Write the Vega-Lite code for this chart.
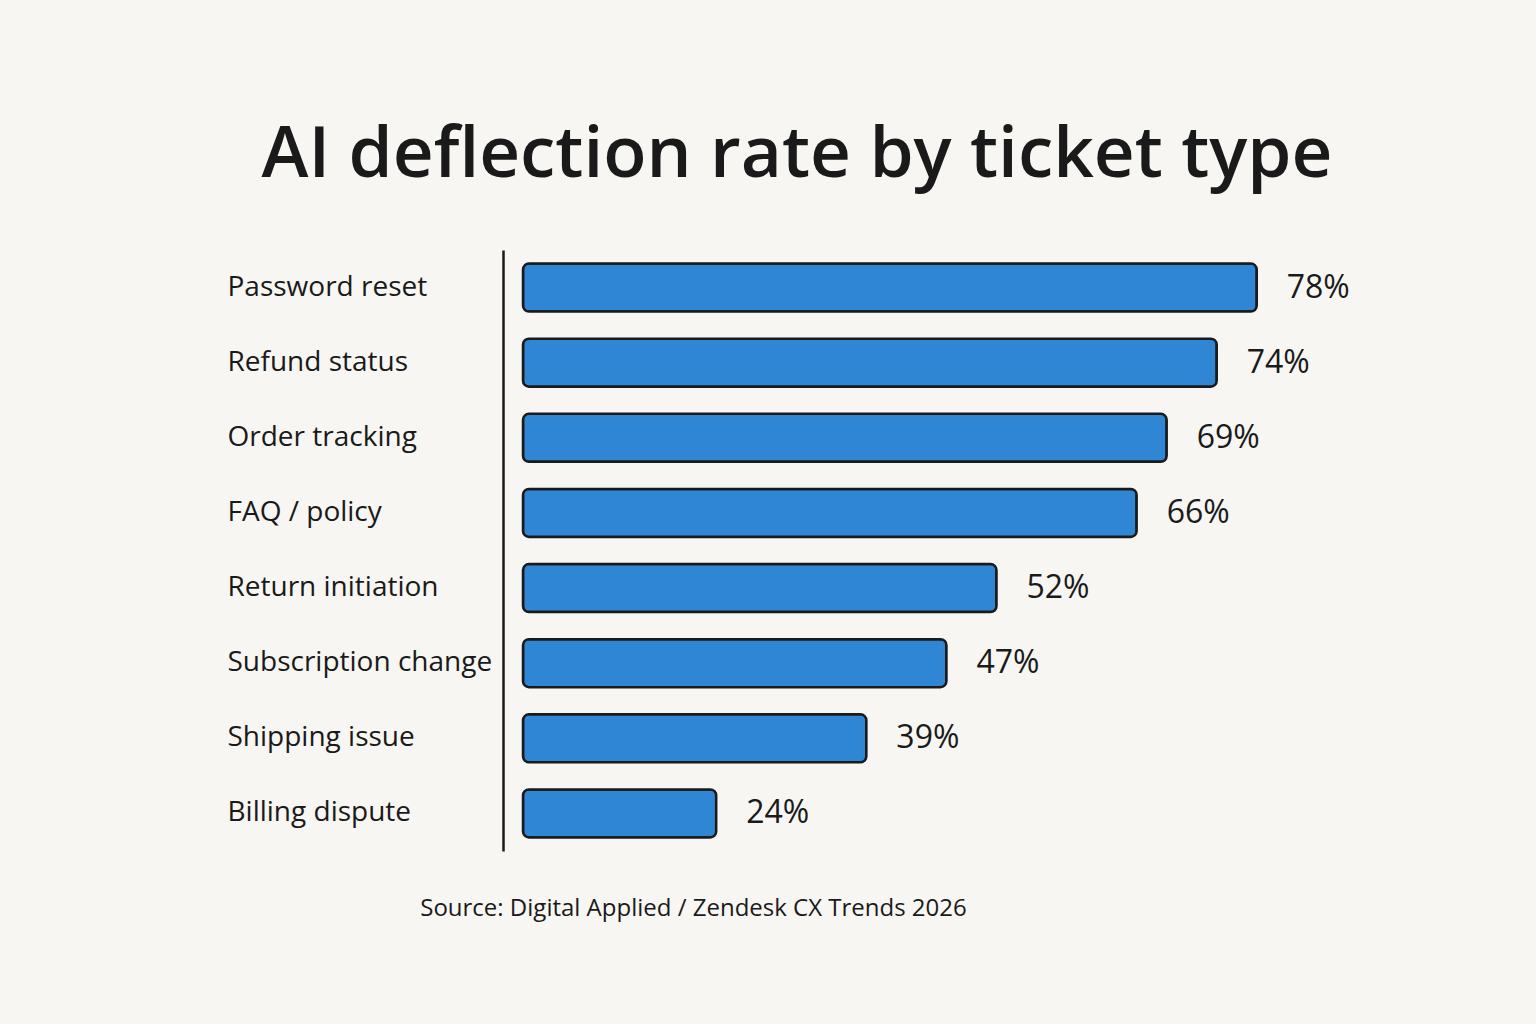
{
  "$schema": "https://vega.github.io/schema/vega-lite/v6.json",
  "autosize": "none",
  "width": 954,
  "height": 601,
  "padding": {"left": 523, "top": 250, "right": 59, "bottom": 173},
  "background": "#f7f6f2",
  "title": {
    "text": "AI deflection rate by ticket type",
    "anchor": "middle",
    "frame": "group",
    "dx": -203,
    "offset": 2,
    "baseline": "alphabetic",
    "fontSize": 71,
    "font": "Open Sans",
    "fontWeight": 600,
    "color": "#1a1a1a"
  },
  "data": {
    "values": [
      {"type": "Password reset", "rate": 0.78},
      {"type": "Refund status", "rate": 0.74},
      {"type": "Order tracking", "rate": 0.69},
      {"type": "FAQ / policy", "rate": 0.66},
      {"type": "Return initiation", "rate": 0.52},
      {"type": "Subscription change", "rate": 0.47},
      {"type": "Shipping issue", "rate": 0.39},
      {"type": "Billing dispute", "rate": 0.24}
    ]
  },
  "encoding": {
    "y": {
      "field": "type",
      "type": "nominal",
      "sort": null,
      "scale": {"paddingInner": 0.36, "paddingOuter": 0.18},
      "axis": {
        "title": null,
        "ticks": false,
        "offset": 20,
        "domainColor": "#1a1a1a",
        "domainWidth": 2.5,
        "labelAlign": "left",
        "labelPadding": 276,
        "labelFont": "Open Sans",
        "labelFontSize": 28,
        "labelColor": "#1a1a1a",
        "labelLimit": 400
      }
    },
    "x": {
      "field": "rate",
      "type": "quantitative",
      "scale": {"domain": [0.047, 1.0], "zero": false, "clamp": true},
      "axis": {
        "title": "Source: Digital Applied / Zendesk CX Trends 2026",
        "labels": false,
        "ticks": false,
        "domain": false,
        "grid": false,
        "titleFont": "Open Sans",
        "titleFontSize": 24,
        "titleFontWeight": "normal",
        "titleColor": "#1a1a1a",
        "titleX": 170,
        "titleY": 45,
        "titleAlign": "center"
      }
    }
  },
  "layer": [
    {
      "mark": {
        "type": "bar",
        "color": "#2f86d4",
        "stroke": "#1a1a1a",
        "strokeWidth": 2.5,
        "cornerRadius": 6
      }
    },
    {
      "mark": {
        "type": "text",
        "align": "left",
        "dx": 30,
        "font": "Open Sans",
        "fontSize": 32,
        "color": "#1a1a1a"
      },
      "encoding": {
        "text": {"field": "rate", "type": "quantitative", "format": ".0%"}
      }
    }
  ],
  "config": {"view": {"stroke": null}}
}
